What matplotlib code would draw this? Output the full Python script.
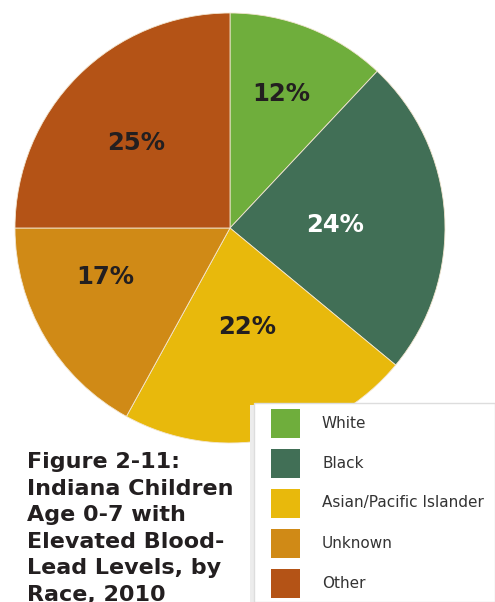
import matplotlib.pyplot as plt
import matplotlib.patches as mpatches
import numpy as np

# data
races = ["White", "Black", "Asian/Pacific Islander", "Unknown", "Other"]
shares = [12, 24, 22, 17, 25]
colors = ["#6fae3c", "#416f56", "#e8b90c", "#d08a16", "#b45316"]
label_colors = ["#231f20", "white", "#231f20", "#231f20", "#231f20"]
label_dist = [0.67, 0.49, 0.463, 0.62, 0.593]
label_turn = [0.9, -1.4, -1.0, -9.4, 2.5]   # degrees off the wedge middle
title = "Figure 2-11:\nIndiana Children\nAge 0-7 with\nElevated Blood-\nLead Levels, by\nRace, 2010"

W, H = 495, 602
fig = plt.figure(figsize=(W / 100, H / 100), dpi=100)
ax = fig.add_axes([0, 0, 1, 1])

cx, cy, R = 230, H - 228, 215
wedges, _ = ax.pie(shares, colors=colors, startangle=90, counterclock=False,
                   center=(cx, cy), radius=R, frame=True,
                   wedgeprops=dict(edgecolor="#f3e6d0", linewidth=0.6))
ax.set_xlim(0, W)
ax.set_ylim(0, H)
ax.set_aspect("equal")
ax.axis("off")

# percentage labels
for w, s, c, d, t in zip(wedges, shares, label_colors, label_dist, label_turn):
    ang = np.deg2rad((w.theta1 + w.theta2) / 2 + t)
    ax.text(cx + d * R * np.cos(ang), cy + d * R * np.sin(ang) - 1, f"{s}%",
            ha="center", va="center", fontsize=17.5, fontweight="bold", color=c)

# legend box
box = mpatches.Rectangle((254, 0), W - 254, H - 403, facecolor="white",
                         edgecolor="#dddddd", linewidth=1, zorder=5)
shadow = mpatches.Rectangle((250, 0), 6, H - 405, facecolor="#ececec",
                            edgecolor="none", zorder=4)
ax.add_patch(shadow)
ax.add_patch(box)
for i, (r, c) in enumerate(zip(races, colors)):
    yc = H - 423 - 40 * i
    ax.add_patch(mpatches.Rectangle((271, yc - 14.5), 29, 29, facecolor=c,
                                    edgecolor="none", zorder=6))
    ax.text(322, yc, r, ha="left", va="center", fontsize=11,
            color="#333333", zorder=7)

# title
ax.text(27, H - 452, title, ha="left", va="top", fontsize=16,
        fontweight="bold", color="#231f20", linespacing=1.41, zorder=3)

fig.savefig("out.png", dpi=100)
